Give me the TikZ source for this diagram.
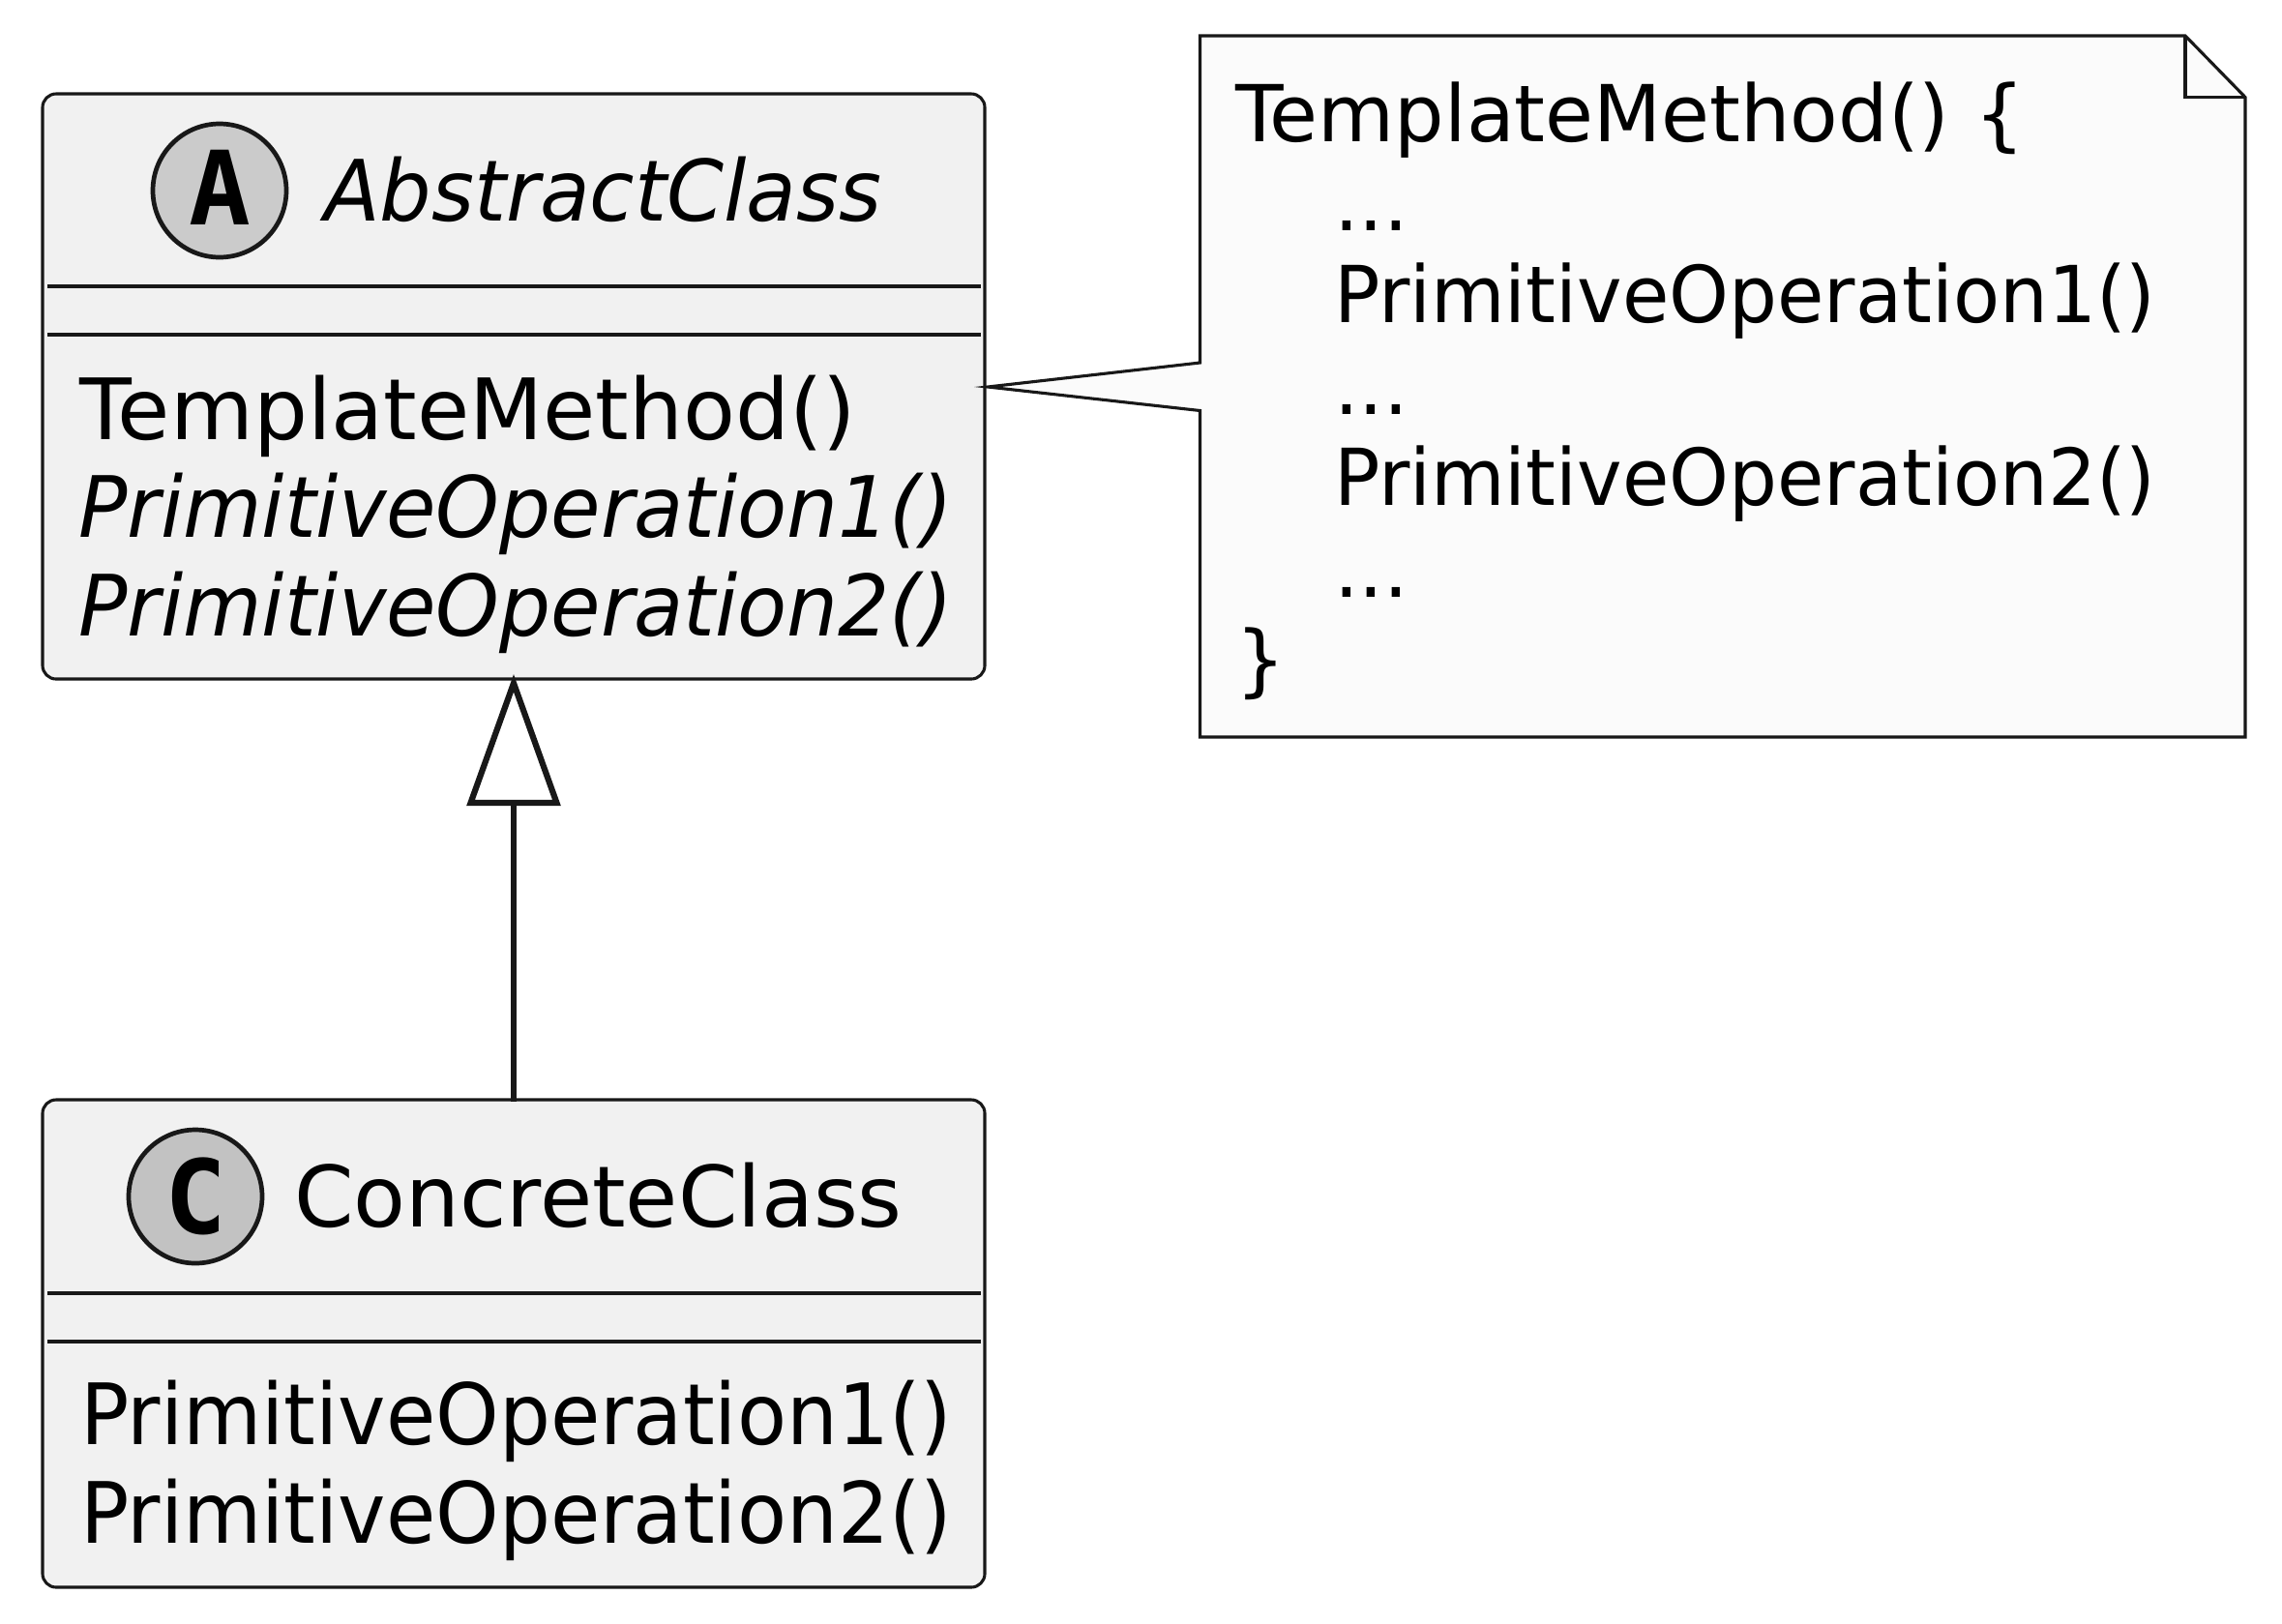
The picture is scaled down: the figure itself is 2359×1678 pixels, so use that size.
\documentclass[tikz,border=0pt]{standalone}
\usepackage{fontspec}
\usepackage{graphicx}
\setmainfont{DejaVu Sans}
\newfontfamily\monob{DejaVu Sans Mono}[BoldFont={DejaVu Sans Mono Bold}]
\usetikzlibrary{arrows.meta}
\definecolor{edgeblack}{HTML}{181818}
\definecolor{boxfill}{HTML}{F1F1F1}
\definecolor{notefill}{HTML}{FBFBFB}
\definecolor{absfill}{HTML}{CBCBCB}
\definecolor{confill}{HTML}{C2C2C2}
\newcommand{\sqz}[2]{\scalebox{#1}[1]{#2}}
\tikzset{
  x=0.5pt,y=-0.5pt,
  classbox/.style={draw=edgeblack,fill=boxfill,line width=1.55pt,rounded corners=7pt,inner sep=0pt,outer sep=0pt,minimum width=487pt},
  sepline/.style={draw=edgeblack,line width=1.55pt},
  spot/.style={circle,draw=edgeblack,line width=2.35pt,inner sep=0pt,outer sep=0pt,minimum size=69pt},
  spotletter/.style={anchor=base,inner sep=0pt,outer sep=0pt,font=\monob\bfseries\fontsize{53}{53}\selectfont,text=black},
  member/.style={anchor=base west,inner sep=0pt,outer sep=0pt,font=\fontsize{43.75}{50}\selectfont,text=black},
  imember/.style={member,font=\itshape\fontsize{43.75}{50}\selectfont},
  notetext/.style={anchor=base west,inner sep=0pt,outer sep=0pt,font=\fontsize{40.6}{47}\selectfont,text=black},
  noteedge/.style={draw=edgeblack,fill=notefill,line width=1.55pt,line join=miter},
  inherit/.style={draw=edgeblack,line width=3.1pt,shorten <=-1pt,shorten >=-2.5pt,-{Triangle[fill=white,length=68pt,width=48pt,line width=3.1pt]}},
}
\begin{document}
\begin{tikzpicture}
\useasboundingbox (0,0) rectangle (2359,1678);
% Abstract class
\node[classbox,minimum height=302.5pt] (abs) at (531,399.5) {};
\draw[sepline] (49,296) -- (1014,296);
\draw[sepline] (49,346) -- (1014,346);
\node[spot,fill=absfill] (absspot) at (227,197) {};
\node[spotletter] (absletter) at (227,232) {A};
\node[imember] (absname) at (335,228) {\sqz{0.965}{AbstractClass}};
\node[member] (absm1) at (83,454) {\sqz{1.0076}{TemplateMethod()}};
\node[imember] (absm2) at (81.5,555) {\sqz{0.955}{PrimitiveOperation1()}};
\node[imember] (absm3) at (81.5,657) {\sqz{0.955}{PrimitiveOperation2()}};
% Concrete class
\node[classbox,minimum height=252pt] (con) at (531,1389) {};
\draw[sepline] (49,1337) -- (1014,1337);
\draw[sepline] (49,1387) -- (1014,1387);
\node[spot,fill=confill] (conspot) at (202,1237) {};
\node[spotletter] (conletter) at (202,1275) {C};
\node[member] (conname) at (304,1268) {\sqz{1.007}{ConcreteClass}};
\node[member] (conm1) at (83,1493) {\sqz{0.954}{PrimitiveOperation1()}};
\node[member] (conm2) at (83,1595) {\sqz{0.954}{PrimitiveOperation2()}};
% Inheritance
\draw[inherit] (con.north) -- (abs.south);
% Note
\coordinate (tip) at (1021,400);
\path[noteedge] (1240.5,37) -- (2259,37) -- (2321,100.5) -- (2321,762) -- (1240.5,762) -- (1240.5,424.5) -- (tip) -- (1240.5,375) -- cycle;
\draw[noteedge,fill=none] (2259,37) -- (2259,100.5) -- (2321,100.5);
\node[notetext] (n1) at (1277,146) {TemplateMethod() \{};
\node[notetext] (n2) at (1379,238) {...};
\node[notetext] (n3) at (1379,333.5) {\sqz{0.969}{PrimitiveOperation1()}};
\node[notetext] (n4) at (1379,428.5) {...};
\node[notetext] (n5) at (1379,522) {\sqz{0.969}{PrimitiveOperation2()}};
\node[notetext] (n6) at (1379,617) {...};
\node[notetext] (n7) at (1277,710) {\}};
\end{tikzpicture}
\end{document}
